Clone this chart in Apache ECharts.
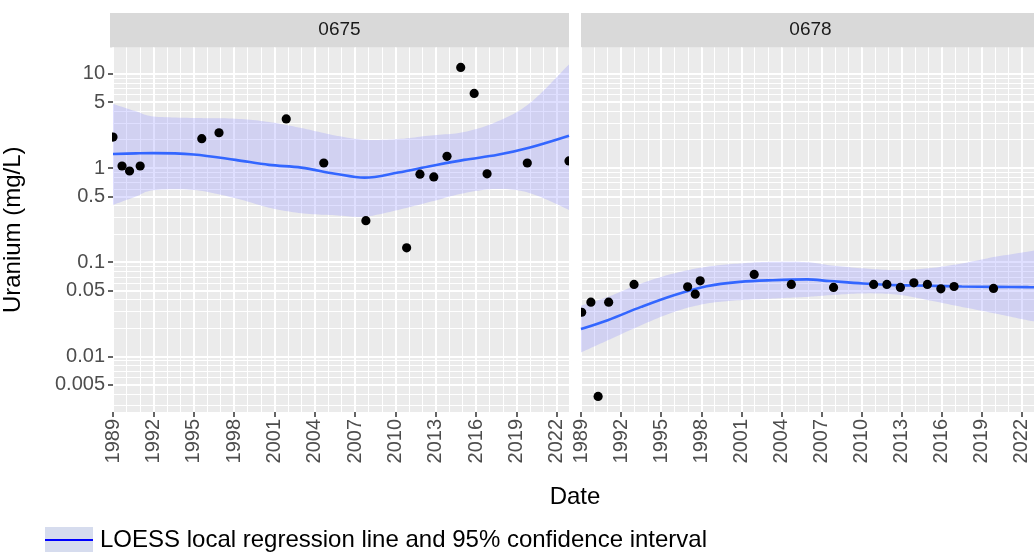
<!DOCTYPE html>
<html>
<head>
<meta charset="utf-8">
<script src="https://cdn.jsdelivr.net/npm/echarts@6/dist/echarts.min.js"></script>
<style>
  html, body { margin: 0; padding: 0; background: #ffffff; }
  #chart { width: 1034px; height: 552px; }
</style>
</head>
<body>
<div id="chart"></div>
<script>
// Facet (well) identifiers
const sites = ['0675', '0678'];

// Well 0675: sample dates (decimal years) and uranium (mg/L)
const years0675 = [1989.0, 1989.67, 1990.23, 1991.02, 1995.6, 1996.88, 2001.88, 2004.67, 2007.8, 2010.83,
                   2011.82, 2012.85, 2013.83, 2014.85, 2015.85, 2016.81, 2019.8, 2022.9];
const uranium0675 = [2.13, 1.05, 0.93, 1.05, 2.05, 2.37, 3.32, 1.13, 0.276, 0.142,
                     0.86, 0.805, 1.33, 11.7, 6.2, 0.867, 1.13, 1.19];

// Well 0678: sample dates (decimal years) and uranium (mg/L)
const years0678 = [1989.05, 1989.74, 1990.28, 1991.07, 1992.97, 1996.98, 1997.55, 1997.92, 2001.96, 2004.74,
                   2007.9, 2010.9, 2011.89, 2012.9, 2013.91, 2014.92, 2015.93, 2016.92, 2019.87];
const uranium0678 = [0.0294, 0.0376, 0.00375, 0.0376, 0.058, 0.0547, 0.0457, 0.0634, 0.0741, 0.058,
                     0.0539, 0.058, 0.058, 0.0539, 0.0604, 0.058, 0.0521, 0.0552, 0.0526];

// LOESS fit and 95% confidence band, well 0675
const fitYears0675 = [1989.0, 1990.7, 1992.0, 1995.0, 1998.1, 2000.6, 2003.0, 2005.5, 2007.7, 2010.2,
                      2012.65, 2015.1, 2017.6, 2020.0, 2022.9];
const fit0675   = [1.41, 1.43, 1.44, 1.39, 1.22, 1.08, 1.01, 0.87, 0.79, 0.895, 1.05, 1.22, 1.38, 1.65, 2.2];
const upper0675 = [4.79, 4.0, 3.53, 3.40, 3.34, 3.08, 2.66, 2.22, 2.0, 2.03, 2.22, 2.41, 3.13, 4.9, 12.6];
const lower0675 = [0.406, 0.498, 0.58, 0.585, 0.478, 0.379, 0.331, 0.315, 0.304, 0.359, 0.44, 0.541, 0.60, 0.541, 0.359];

// LOESS fit and 95% confidence band, well 0678
const fitYears0678 = [1989.0, 1991.0, 1993.5, 1995.95, 1998.4, 2000.9, 2003.35, 2005.9, 2007.6, 2010.1,
                      2012.6, 2015.0, 2017.5, 2020.0, 2022.4, 2022.9];
const fit0678   = [0.0195, 0.0242, 0.0335, 0.0446, 0.0556, 0.0618, 0.0644, 0.0656, 0.063, 0.0594,
                   0.057, 0.0562, 0.0552, 0.0547, 0.0543, 0.0542];
const upper0678 = [0.0345, 0.0428, 0.0594, 0.076, 0.0894, 0.097, 0.101, 0.1, 0.093, 0.086,
                   0.0824, 0.086, 0.097, 0.114, 0.129, 0.133];
const lower0678 = [0.011, 0.0148, 0.0214, 0.0296, 0.0364, 0.0395, 0.0411, 0.0428, 0.0446, 0.0466,
                   0.0454, 0.0395, 0.0335, 0.0285, 0.0242, 0.0236];

// Axis breaks
const xTickValues = [1989, 1992, 1995, 1998, 2001, 2004, 2007, 2010, 2013, 2016, 2019, 2022];
const xTickLabels = ['1989', '1992', '1995', '1998', '2001', '2004', '2007', '2010', '2013', '2016', '2019', '2022'];
const yTickValues = [0.005, 0.01, 0.05, 0.1, 0.5, 1, 5, 10];
const yTickLabels = ['0.005', '0.01', '0.05', '0.1', '0.5', '1', '5', '10'];

const X_MIN = 1989.0, X_MAX = 2022.9;
const Y_MIN = 0.002564, Y_MAX = 19.05;

// minor grid: every year on x, every 1..9 x 10^n on y
const xMinorValues = [];
for (let y = 1989; y <= 2022; y++) xMinorValues.push(y);
const yMinorValues = [];
for (let n = -3; n <= 1; n++) {
  for (let k = 1; k <= 9; k++) {
    const v = +(k * Math.pow(10, n)).toPrecision(6);
    if (v > Y_MIN && v < Y_MAX) yMinorValues.push(v);
  }
}

const FONT = '"Liberation Sans", Arial, Helvetica, sans-serif';
const PANEL_TOP = 47.5, PANEL_H = 364.5, PANEL_W = 459;
const panelLefts = [110, 581];
const BAND_FILL = 'rgba(150,150,255,0.3)';
const POINT_RADIUS = 4.6;

const labelFor = (values, labels) => (v) => {
  for (let i = 0; i < values.length; i++) {
    if (Math.abs(v - values[i]) <= Math.abs(values[i]) * 1e-6) return labels[i];
  }
  return '';
};

// Catmull-Rom smoothing of a pixel-space polyline (used for the band outline)
function smoothPixels(pts, steps) {
  const out = [];
  for (let i = 0; i < pts.length - 1; i++) {
    const p0 = pts[Math.max(i - 1, 0)], p1 = pts[i], p2 = pts[i + 1], p3 = pts[Math.min(i + 2, pts.length - 1)];
    for (let s = 0; s < steps; s++) {
      const t = s / steps, t2 = t * t, t3 = t2 * t;
      out.push([0, 1].map(k => 0.5 * (2 * p1[k] + (-p0[k] + p2[k]) * t +
        (2 * p0[k] - 5 * p1[k] + 4 * p2[k] - p3[k]) * t2 + (-p0[k] + 3 * p1[k] - 3 * p2[k] + p3[k]) * t3)));
    }
  }
  out.push(pts[pts.length - 1]);
  return out;
}

const grids = panelLefts.map(left => ({
  left: left, top: PANEL_TOP, width: PANEL_W, height: PANEL_H,
  show: true, backgroundColor: '#EBEBEB', borderWidth: 0, containLabel: false
}));

const xAxes = [];
const yAxes = [];
panelLefts.forEach((_, g) => {
  // minor grid lines
  xAxes.push({
    type: 'value', gridIndex: g, min: X_MIN, max: X_MAX, position: 'bottom',
    axisLine: { show: false },
    axisTick: { show: false, customValues: xMinorValues },
    axisLabel: { show: false },
    splitLine: { show: true, lineStyle: { color: '#FFFFFF', width: 1 } }
  });
  // major breaks with labels
  xAxes.push({
    type: 'value', gridIndex: g, min: X_MIN, max: X_MAX, position: 'bottom',
    axisLine: { show: false },
    axisTick: { show: true, length: 5, lineStyle: { color: '#333333', width: 1.5 }, customValues: xTickValues },
    axisLabel: {
      show: true, customValues: xTickValues, rotate: 90, margin: 7,
      fontSize: 20, color: '#4D4D4D', fontFamily: FONT,
      formatter: labelFor(xTickValues, xTickLabels)
    },
    splitLine: { show: true, lineStyle: { color: '#FFFFFF', width: 2 } }
  });
  yAxes.push({
    type: 'log', logBase: 10, gridIndex: g, min: Y_MIN, max: Y_MAX, position: 'left',
    axisLine: { show: false },
    axisTick: { show: false, customValues: yMinorValues },
    axisLabel: { show: false },
    splitLine: { show: true, lineStyle: { color: '#FFFFFF', width: 1 } }
  });
  yAxes.push({
    type: 'log', logBase: 10, gridIndex: g, min: Y_MIN, max: Y_MAX, position: 'left',
    name: g === 0 ? 'Uranium (mg/L)' : '',
    nameLocation: 'middle', nameGap: 88, nameRotate: 90,
    nameTextStyle: { fontSize: 24, color: '#000000', fontFamily: FONT },
    axisLine: { show: false },
    axisTick: { show: g === 0, length: 5, lineStyle: { color: '#333333', width: 1.5 }, customValues: yTickValues },
    axisLabel: {
      show: g === 0, customValues: yTickValues, margin: 8,
      fontSize: 20, color: '#4D4D4D', fontFamily: FONT,
      formatter: labelFor(yTickValues, yTickLabels)
    },
    splitLine: { show: true, lineStyle: { color: '#FFFFFF', width: 2 } }
  });
});

const zip = (xs, ys) => xs.map((x, i) => [x, ys[i]]);

const facetData = [
  { years: years0675, values: uranium0675, fitYears: fitYears0675, fit: fit0675, upper: upper0675, lower: lower0675 },
  { years: years0678, values: uranium0678, fitYears: fitYears0678, fit: fit0678, upper: upper0678, lower: lower0678 }
];

const series = [];
facetData.forEach((d, g) => {
  const xi = g * 2 + 1, yi = g * 2 + 1;
  // 95% confidence band as one filled polygon between lower and upper edges
  series.push({
    type: 'custom', xAxisIndex: xi, yAxisIndex: yi, clip: true, silent: true, z: 2,
    data: d.fitYears.map((x, i) => [x, d.lower[i], d.upper[i]]),
    encode: { x: 0, y: [1, 2] },
    renderItem: (params, api) => {
      if (params.dataIndex !== 0) return null;
      const top = d.fitYears.map((x, i) => api.coord([x, d.upper[i]]));
      const bottom = d.fitYears.map((x, i) => api.coord([x, d.lower[i]]));
      const points = smoothPixels(top, 12).concat(smoothPixels(bottom, 12).reverse());
      return { type: 'polygon', shape: { points: points }, style: { fill: BAND_FILL } };
    }
  });
  // LOESS line
  series.push({
    type: 'line', xAxisIndex: xi, yAxisIndex: yi,
    data: zip(d.fitYears, d.fit), smooth: 0.35, symbol: 'none', silent: true,
    lineStyle: { color: '#3366FF', width: 2.6 }, z: 3
  });
  // observations, clipped to the panel like the other layers
  series.push({
    type: 'custom', xAxisIndex: xi, yAxisIndex: yi, clip: true, z: 4,
    data: zip(d.years, d.values),
    encode: { x: 0, y: 1 },
    renderItem: (params, api) => {
      const p = api.coord([api.value(0), api.value(1)]);
      return { type: 'circle', shape: { cx: p[0], cy: p[1], r: POINT_RADIUS }, style: { fill: '#000000' } };
    }
  });
});

const graphics = [];
panelLefts.forEach((left, g) => {
  graphics.push({
    type: 'rect', shape: { x: left, y: 13, width: PANEL_W, height: PANEL_TOP - 13 },
    style: { fill: '#D9D9D9' }, silent: true
  });
  graphics.push({
    type: 'text', x: left + PANEL_W / 2, y: 30,
    style: { text: sites[g], font: '19px ' + FONT, fill: '#1A1A1A',
             align: 'center', verticalAlign: 'middle', textAlign: 'center', textVerticalAlign: 'middle' },
    silent: true
  });
});
graphics.push({
  type: 'text', x: 575, y: 497,
  style: { text: 'Date', font: '24px ' + FONT, fill: '#000000',
           align: 'center', verticalAlign: 'middle', textAlign: 'center', textVerticalAlign: 'middle' },
  silent: true
});
// legend key and label
graphics.push({
  type: 'rect', shape: { x: 45, y: 527, width: 48, height: 26 },
  style: { fill: '#D6DCEE' }, silent: true
});
graphics.push({
  type: 'line', shape: { x1: 45, y1: 540, x2: 93, y2: 540 },
  style: { stroke: '#0000FF', lineWidth: 2 }, silent: true
});
graphics.push({
  type: 'text', x: 100, y: 540,
  style: { text: 'LOESS local regression line and 95% confidence interval', font: '24px ' + FONT, fill: '#000000',
           align: 'left', verticalAlign: 'middle', textAlign: 'left', textVerticalAlign: 'middle' },
  silent: true
});

const chart = echarts.init(document.getElementById('chart'), null, { renderer: 'canvas' });
chart.setOption({
  animation: false,
  backgroundColor: '#FFFFFF',
  grid: grids,
  xAxis: xAxes,
  yAxis: yAxes,
  series: series,
  graphic: { elements: graphics }
});
</script>
</body>
</html>
